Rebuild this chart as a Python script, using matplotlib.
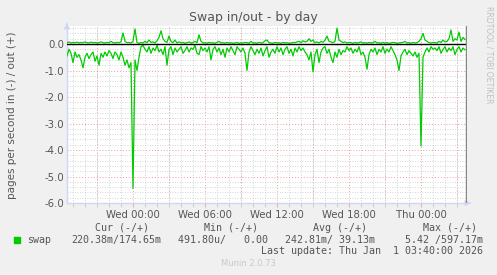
import numpy as np
import matplotlib
matplotlib.use("Agg")
import matplotlib.pyplot as plt
from matplotlib.ticker import MultipleLocator

# ---- data (hours relative to Wed 00:00, 10-minute samples) ----
start_hour = -5.5
step_hours = 1 / 6
swap_in = [0.45, 0.2, 0.35, 0.7, 0.3, 0.5, 0.4, 0.6, 0.9, 0.5,
           0.35, 0.55, 0.4, 0.3, 0.65, 0.45, 0.8, 0.35, 0.5, 0.3,
           0.45, 0.25, 0.35, 0.55, 0.3, 0.4, 0.6, 0.3, 0.5, 0.8,
           0.6, 0.9, 0.7, 5.45, 0.6, 1.0, 0.5, 0.1, 0.05, 0.2,
           0.3, 0.1, 0.35, 0.15, 0.25, 0.05, 0.3, 0.2, 0.4, 0.1,
           0.8, 0.2, 0.1, 0.4, 0.15, 0.3, 0.2, 0.1, 0.35, 0.25,
           0.1, 0.3, 0.15, 0.2, 0.05, 0.35, 0.4, 0.1, 0.25, 0.15,
           0.3, 0.1, 0.6, 0.2, 0.1, 0.3, 0.15, 0.4, 0.2, 0.5,
           0.15, 0.3, 0.1, 0.25, 0.4, 0.1, 0.2, 0.3, 0.15, 0.35,
           1.0, 0.3, 0.1, 0.25, 0.4, 0.2, 0.35, 0.15, 0.45, 0.25,
           0.1, 0.5, 0.3, 0.2, 0.35, 0.1, 0.3, 0.15, 0.4, 0.2,
           0.1, 0.35, 0.2, 0.45, 0.15, 0.3, 0.1, 0.25, 0.15, 0.3,
           0.4, 0.6, 0.3, 1.05, 0.4, 0.2, 0.7, 0.3, 0.15, 0.1,
           0.35, 0.2, 0.5, 0.7, 0.3, 0.5, 0.2, 0.4, 0.25, 0.3,
           0.1, 0.25, 0.15, 0.35, 0.2, 0.3, 0.1, 0.4, 0.3, 0.5,
           0.95, 0.4, 0.2, 0.3, 0.15, 0.4, 0.2, 0.3, 0.1, 0.35,
           0.2, 0.3, 0.1, 0.25, 0.4, 0.6, 1.0, 0.45, 0.3, 0.2,
           0.4, 0.25, 0.35, 0.45, 0.3, 0.5, 0.35, 3.85, 0.5, 0.3,
           0.15, 0.3, 0.1, 0.2, 0.15, 0.25, 0.1, 0.35, 0.2, 0.1,
           0.3, 0.15, 0.25, 0.1, 0.4, 0.2, 0.1, 0.3, 0.15, 0.22]
swap_out = [0.05, 0.08, 0.04, 0.06, 0.05, 0.07, 0.04, 0.06, 0.05, 0.08,
            0.05, 0.04, 0.07, 0.05, 0.06, 0.04, 0.05, 0.08, 0.05, 0.04,
            0.06, 0.05, 0.10, 0.05, 0.04, 0.06, 0.05, 0.08, 0.42, 0.10,
            0.05, 0.06, 0.04, 0.10, 0.57, 0.05, 0.03, 0.06, 0.04, 0.10,
            0.05, 0.15, 0.06, 0.08, 0.04, 0.12, 0.25, 0.50, 0.20, 0.10,
            0.06, 0.30, 0.10, 0.05, 0.15, 0.04, 0.08, 0.05, 0.06, 0.03,
            0.05, 0.08, 0.04, 0.06, 0.10, 0.05, 0.35, 0.10, 0.04, 0.05,
            0.03, 0.06, 0.04, 0.05, 0.03, 0.06, 0.10, 0.04, 0.05, 0.03,
            0.06, 0.04, 0.05, 0.03, 0.04, 0.06, 0.03, 0.05, 0.04, 0.06,
            0.05, 0.03, 0.10, 0.04, 0.05, 0.03, 0.06, 0.04, 0.05, 0.12,
            0.15, 0.05, 0.04, 0.03, 0.06, 0.04, 0.05, 0.03, 0.06, 0.04,
            0.05, 0.03, 0.04, 0.06, 0.05, 0.08, 0.10, 0.05, 0.12, 0.08,
            0.10, 0.20, 0.10, 0.15, 0.05, 0.08, 0.04, 0.10, 0.06, 0.15,
            0.30, 0.10, 0.08, 0.05, 0.10, 0.60, 0.15, 0.10, 0.05, 0.08,
            0.04, 0.06, 0.05, 0.03, 0.06, 0.04, 0.05, 0.08, 0.04, 0.05,
            0.03, 0.06, 0.04, 0.05, 0.10, 0.04, 0.05, 0.03, 0.06, 0.04,
            0.05, 0.03, 0.04, 0.06, 0.05, 0.03, 0.04, 0.05, 0.06, 0.10,
            0.04, 0.05, 0.03, 0.06, 0.04, 0.05, 0.10, 0.20, 0.40, 0.15,
            0.10, 0.05, 0.04, 0.06, 0.05, 0.04, 0.10, 0.06, 0.15, 0.08,
            0.10, 0.20, 0.53, 0.10, 0.20, 0.15, 0.45, 0.10, 0.25, 0.17]
xtick_hours = [0, 6, 12, 18, 24]
xtick_labels = ["Wed 00:00", "Wed 06:00", "Wed 12:00", "Wed 18:00", "Thu 00:00"]
ytick_values = [0.0, -1.0, -2.0, -3.0, -4.0, -5.0, -6.0]

legend_headers = ["Cur (-/+)", "Min (-/+)", "Avg (-/+)", "Max (-/+)"]
legend_name = "swap"
cur_txt = "220.38m/174.65m"
min_txt = "491.80u/   0.00"
avg_txt = "242.81m/ 39.13m"
max_txt = "5.42 /597.17m"
last_update = "Last update: Thu Jan  1 03:40:00 2026"

# ---- styling ----
W, H = 497, 275
BG = "#F0F0F0"
FONT = "#555555"
GREEN = "#00CC00"
AXIS = "#CFD6F8"

times = start_hour + step_hours * np.arange(len(swap_in))

fig = plt.figure(figsize=(W / 100, H / 100), dpi=100, facecolor=BG)
ax = fig.add_axes([67 / W, 1 - 203 / H, 400 / W, 177 / H])
ax.set_facecolor("white")
ax.set_xlim(-5.5, 27.833)
ax.set_ylim(-6.0, 0.68)

# grids
ax.xaxis.set_minor_locator(MultipleLocator(1))
ax.yaxis.set_minor_locator(MultipleLocator(0.2))
ax.grid(which="minor", color="#C8C8C8", linestyle=(0, (1, 2)), linewidth=0.6)
major_x = np.arange(-3, 28, 3)
for xv in major_x:
    ax.axvline(xv, color="#E8A0A0", linestyle=(0, (1, 2)), linewidth=0.7, zorder=1)
for yv in ytick_values:
    ax.axhline(yv, color="#E8A0A0", linestyle=(0, (1, 2)), linewidth=0.7, zorder=1)

ax.set_xticks(xtick_hours)
ax.set_xticklabels(xtick_labels)
ax.set_yticks(ytick_values)
ax.set_yticklabels(["%.1f" % v for v in ytick_values])
ax.tick_params(which="both", length=3, width=0.6, color="#E8A0A0",
               labelsize=7.3, labelcolor=FONT, pad=2)
ax.tick_params(axis="y", which="both", length=0)
ax.tick_params(axis="x", which="minor", color="#C8C8C8")

for s in ["top", "right"]:
    ax.spines[s].set_visible(False)
ax.spines["left"].set_color(AXIS)
ax.spines["bottom"].set_color(AXIS)
ax.spines["left"].set_linewidth(1)
ax.spines["bottom"].set_linewidth(1)

# data lines
ax.plot(times, -np.array(swap_in), color=GREEN, linewidth=0.9, zorder=3)
ax.plot(times, np.array(swap_out), color=GREEN, linewidth=0.9, zorder=3)
ax.axhline(0, color="black", linewidth=1.0, zorder=4)
ax.axvline(27.75, color="#888888", linewidth=1.0, zorder=4)

# axis arrows
ax.annotate("", xy=(67 / W, 1 - 20 / H), xytext=(67 / W, 1 - 28 / H),
            xycoords="figure fraction",
            arrowprops=dict(arrowstyle="-|>", color=AXIS, lw=1, mutation_scale=8))
ax.annotate("", xy=(474 / W, 1 - 203 / H), xytext=(466 / W, 1 - 203 / H),
            xycoords="figure fraction",
            arrowprops=dict(arrowstyle="-|>", color=AXIS, lw=1, mutation_scale=8))

def fx(px):
    return px / W

def fy(py):
    return 1 - py / H

fig.text(fx(253), fy(18), "Swap in/out - by day", ha="center", va="center",
         fontsize=9, color=FONT)
fig.text(fx(12), fy(115), "pages per second in (-) / out (+)", rotation=90,
         ha="center", va="center", fontsize=7.5, color=FONT)
fig.text(fx(489), fy(55), "RRDTOOL / TOBI OETIKER", rotation=270,
         ha="center", va="center", fontsize=5.5, color="#C0C0C0")

mono = dict(family="DejaVu Sans Mono", fontsize=7.2, color=FONT, va="center")
header_x = [95, 204, 313, 423]
for hx, h in zip(header_x, legend_headers):
    fig.text(fx(hx), fy(228), h, ha="left", **mono)
fig.patches.append(plt.Rectangle((fx(14), fy(243)), 6 / W, 6 / H,
                                 transform=fig.transFigure, color=GREEN))
fig.text(fx(27), fy(240), legend_name, ha="left", **mono)
fig.text(fx(71), fy(240), cur_txt, ha="left", **mono)
fig.text(fx(178), fy(240), min_txt, ha="left", **mono)
fig.text(fx(285), fy(240), avg_txt, ha="left", **mono)
fig.text(fx(483), fy(240), max_txt, ha="right", **mono)
fig.text(fx(483), fy(251), last_update, ha="right", **mono)
fig.text(fx(248), fy(264), "Munin 2.0.73", ha="center", va="center",
         fontsize=6, color="#C8C8C8")

fig.savefig("out.png", dpi=100, facecolor=BG)
